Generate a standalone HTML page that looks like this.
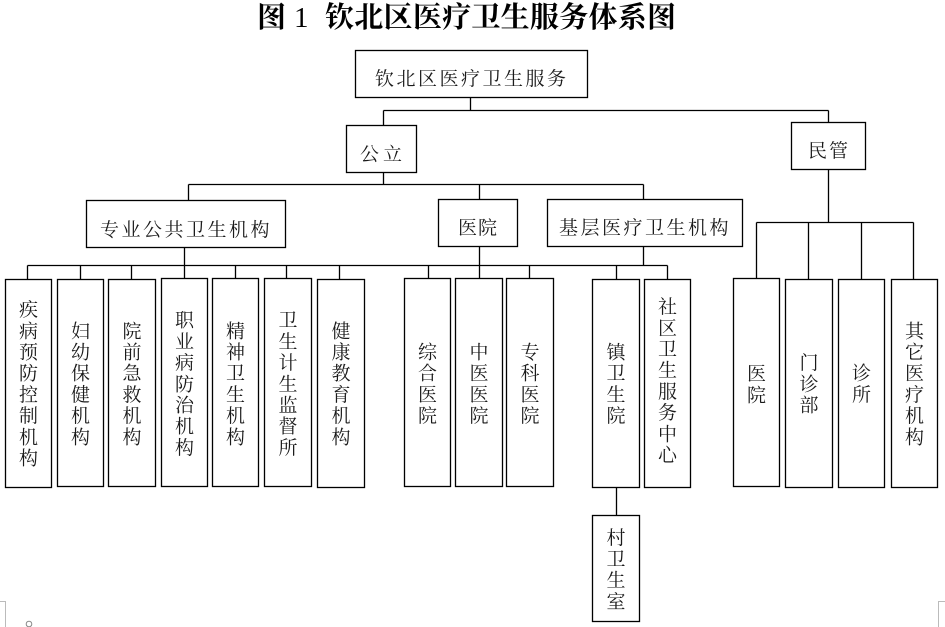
<!DOCTYPE html>
<html>
<head>
<meta charset="utf-8">
<style>
html,body{margin:0;padding:0;background:#fff;}
body{width:945px;height:627px;overflow:hidden;}
svg{display:block;}
.t{font-family:"Liberation Serif","Noto Serif CJK SC",serif;font-size:19px;fill:#1a1a1a;}
.v{font-family:"Liberation Serif","Noto Serif CJK SC",serif;font-size:19px;fill:#1a1a1a;text-anchor:middle;}
</style>
</head>
<body>
<svg width="945" height="627" viewBox="0 0 945 627" xmlns="http://www.w3.org/2000/svg">
<!-- title -->
<text x="257" y="27" font-family="Liberation Serif, Noto Serif CJK SC, serif" font-size="29" font-weight="bold" fill="#000">图</text>
<text x="294" y="27" font-family="Liberation Serif, serif" font-size="29" fill="#000">1</text>
<text x="325" y="27" font-family="Liberation Serif, Noto Serif CJK SC, serif" font-size="29" font-weight="bold" fill="#000" textLength="351" lengthAdjust="spacing">钦北区医疗卫生服务体系图</text>

<g fill="none" stroke="#000" stroke-width="1.3">
<rect x="355.5" y="50.5" width="232" height="47"/>
<rect x="346.5" y="125.5" width="70" height="47"/>
<rect x="791.5" y="122.5" width="74" height="47"/>
<rect x="86.5" y="200.5" width="199" height="47"/>
<rect x="438.5" y="199.5" width="79" height="47"/>
<rect x="547.5" y="199.5" width="195" height="47"/>
<rect x="5.5" y="279.5" width="46" height="208"/>
<rect x="57.5" y="279.5" width="46" height="207"/>
<rect x="108.5" y="279.5" width="47" height="207"/>
<rect x="161.5" y="278.5" width="46" height="208"/>
<rect x="212.5" y="278.5" width="46" height="208"/>
<rect x="264.5" y="278.5" width="47" height="208"/>
<rect x="317.5" y="279.5" width="47" height="208"/>
<rect x="404.5" y="278.5" width="46" height="208"/>
<rect x="455.5" y="278.5" width="47" height="208"/>
<rect x="506.5" y="278.5" width="47" height="208"/>
<rect x="592.5" y="279.5" width="47" height="208"/>
<rect x="644.5" y="279.5" width="46" height="208"/>
<rect x="733.5" y="278.5" width="46" height="208"/>
<rect x="785.5" y="279.5" width="47" height="208"/>
<rect x="838.5" y="279.5" width="46" height="208"/>
<rect x="891.5" y="279.5" width="46" height="208"/>
<rect x="592.5" y="515.5" width="47" height="106"/>
<path d="M470.5 97.5V110.5M383.5 110.5H828.5M383.5 110.5V125.5M828.5 110.5V122.5
M383.5 172.5V184.5M188.5 184.5H643.5M188.5 184.5V200.5M479.5 184.5V199.5M643.5 184.5V199.5
M184.5 247.5V265.5M479.5 246.5V265.5M643.5 246.5V265.5M27.5 265.5H667.5
M27.5 265.5V279.5M80.5 265.5V279.5M131.5 265.5V279.5M184.5 265.5V278.5M235.5 265.5V278.5M286.5 265.5V278.5M339.5 265.5V279.5
M428.5 265.5V278.5M479.5 265.5V278.5M529.5 265.5V278.5M616.5 265.5V279.5M667.5 265.5V279.5
M828.5 169.5V222.5M756.5 222.5H913.5M756.5 222.5V278.5M808.5 222.5V279.5M861.5 222.5V279.5M913.5 222.5V279.5
M616.5 487.5V515.5"/>
</g>

<!-- page artifacts -->
<path d="M0 601.5H5.5V627" fill="none" stroke="#bbb" stroke-width="1"/>
<path d="M945 601.5H938.5V627" fill="none" stroke="#bbb" stroke-width="1"/>
<circle cx="29" cy="624" r="2.8" fill="none" stroke="#888" stroke-width="1"/>

<!-- horizontal labels -->
<text class="t" x="375" y="85" textLength="191" lengthAdjust="spacing">钦北区医疗卫生服务</text>
<text class="t" x="360" y="160.5" textLength="42" lengthAdjust="spacing">公立</text>
<text class="t" x="808" y="157" textLength="40" lengthAdjust="spacing">民管</text>
<text class="t" x="100" y="236" textLength="169.5" lengthAdjust="spacing">专业公共卫生机构</text>
<text class="t" x="458" y="234" textLength="39" lengthAdjust="spacing">医院</text>
<text class="t" x="559" y="234" textLength="169.5" lengthAdjust="spacing">基层医疗卫生机构</text>

<!-- vertical labels -->
<text class="v" y="316.1"><tspan x="28.5">疾</tspan><tspan x="28.5" dy="21.2">病</tspan><tspan x="28.5" dy="21.2">预</tspan><tspan x="28.5" dy="21.2">防</tspan><tspan x="28.5" dy="21.2">控</tspan><tspan x="28.5" dy="21.2">制</tspan><tspan x="28.5" dy="21.2">机</tspan><tspan x="28.5" dy="21.2">构</tspan></text>
<text class="v" y="337.3"><tspan x="80.5">妇</tspan><tspan x="80.5" dy="21.2">幼</tspan><tspan x="80.5" dy="21.2">保</tspan><tspan x="80.5" dy="21.2">健</tspan><tspan x="80.5" dy="21.2">机</tspan><tspan x="80.5" dy="21.2">构</tspan></text>
<text class="v" y="337.3"><tspan x="132">院</tspan><tspan x="132" dy="21.2">前</tspan><tspan x="132" dy="21.2">急</tspan><tspan x="132" dy="21.2">救</tspan><tspan x="132" dy="21.2">机</tspan><tspan x="132" dy="21.2">构</tspan></text>
<text class="v" y="326.7"><tspan x="184.5">职</tspan><tspan x="184.5" dy="21.2">业</tspan><tspan x="184.5" dy="21.2">病</tspan><tspan x="184.5" dy="21.2">防</tspan><tspan x="184.5" dy="21.2">治</tspan><tspan x="184.5" dy="21.2">机</tspan><tspan x="184.5" dy="21.2">构</tspan></text>
<text class="v" y="337.3"><tspan x="235.5">精</tspan><tspan x="235.5" dy="21.2">神</tspan><tspan x="235.5" dy="21.2">卫</tspan><tspan x="235.5" dy="21.2">生</tspan><tspan x="235.5" dy="21.2">机</tspan><tspan x="235.5" dy="21.2">构</tspan></text>
<text class="v" y="326.7"><tspan x="288">卫</tspan><tspan x="288" dy="21.2">生</tspan><tspan x="288" dy="21.2">计</tspan><tspan x="288" dy="21.2">生</tspan><tspan x="288" dy="21.2">监</tspan><tspan x="288" dy="21.2">督</tspan><tspan x="288" dy="21.2">所</tspan></text>
<text class="v" y="337.3"><tspan x="341">健</tspan><tspan x="341" dy="21.2">康</tspan><tspan x="341" dy="21.2">教</tspan><tspan x="341" dy="21.2">育</tspan><tspan x="341" dy="21.2">机</tspan><tspan x="341" dy="21.2">构</tspan></text>
<text class="v" y="358.5"><tspan x="427.5">综</tspan><tspan x="427.5" dy="21.2">合</tspan><tspan x="427.5" dy="21.2">医</tspan><tspan x="427.5" dy="21.2">院</tspan></text>
<text class="v" y="358.5"><tspan x="479">中</tspan><tspan x="479" dy="21.2">医</tspan><tspan x="479" dy="21.2">医</tspan><tspan x="479" dy="21.2">院</tspan></text>
<text class="v" y="358.5"><tspan x="530">专</tspan><tspan x="530" dy="21.2">科</tspan><tspan x="530" dy="21.2">医</tspan><tspan x="530" dy="21.2">院</tspan></text>
<text class="v" y="358.5"><tspan x="616">镇</tspan><tspan x="616" dy="21.2">卫</tspan><tspan x="616" dy="21.2">生</tspan><tspan x="616" dy="21.2">院</tspan></text>
<text class="v" y="313.1"><tspan x="667.5">社</tspan><tspan x="667.5" dy="21.2">区</tspan><tspan x="667.5" dy="21.2">卫</tspan><tspan x="667.5" dy="21.2">生</tspan><tspan x="667.5" dy="21.2">服</tspan><tspan x="667.5" dy="21.2">务</tspan><tspan x="667.5" dy="21.2">中</tspan><tspan x="667.5" dy="21.2">心</tspan></text>
<text class="v" y="380.2"><tspan x="756.5">医</tspan><tspan x="756.5" dy="21.2">院</tspan></text>
<text class="v" y="369.1"><tspan x="809">门</tspan><tspan x="809" dy="21.2">诊</tspan><tspan x="809" dy="21.2">部</tspan></text>
<text class="v" y="379.7"><tspan x="861.5">诊</tspan><tspan x="861.5" dy="21.2">所</tspan></text>
<text class="v" y="337.3"><tspan x="914.5">其</tspan><tspan x="914.5" dy="21.2">它</tspan><tspan x="914.5" dy="21.2">医</tspan><tspan x="914.5" dy="21.2">疗</tspan><tspan x="914.5" dy="21.2">机</tspan><tspan x="914.5" dy="21.2">构</tspan></text>
<text class="v" y="544.2"><tspan x="616">村</tspan><tspan x="616" dy="21.2">卫</tspan><tspan x="616" dy="21.2">生</tspan><tspan x="616" dy="21.2">室</tspan></text>
</svg>
</body>
</html>
